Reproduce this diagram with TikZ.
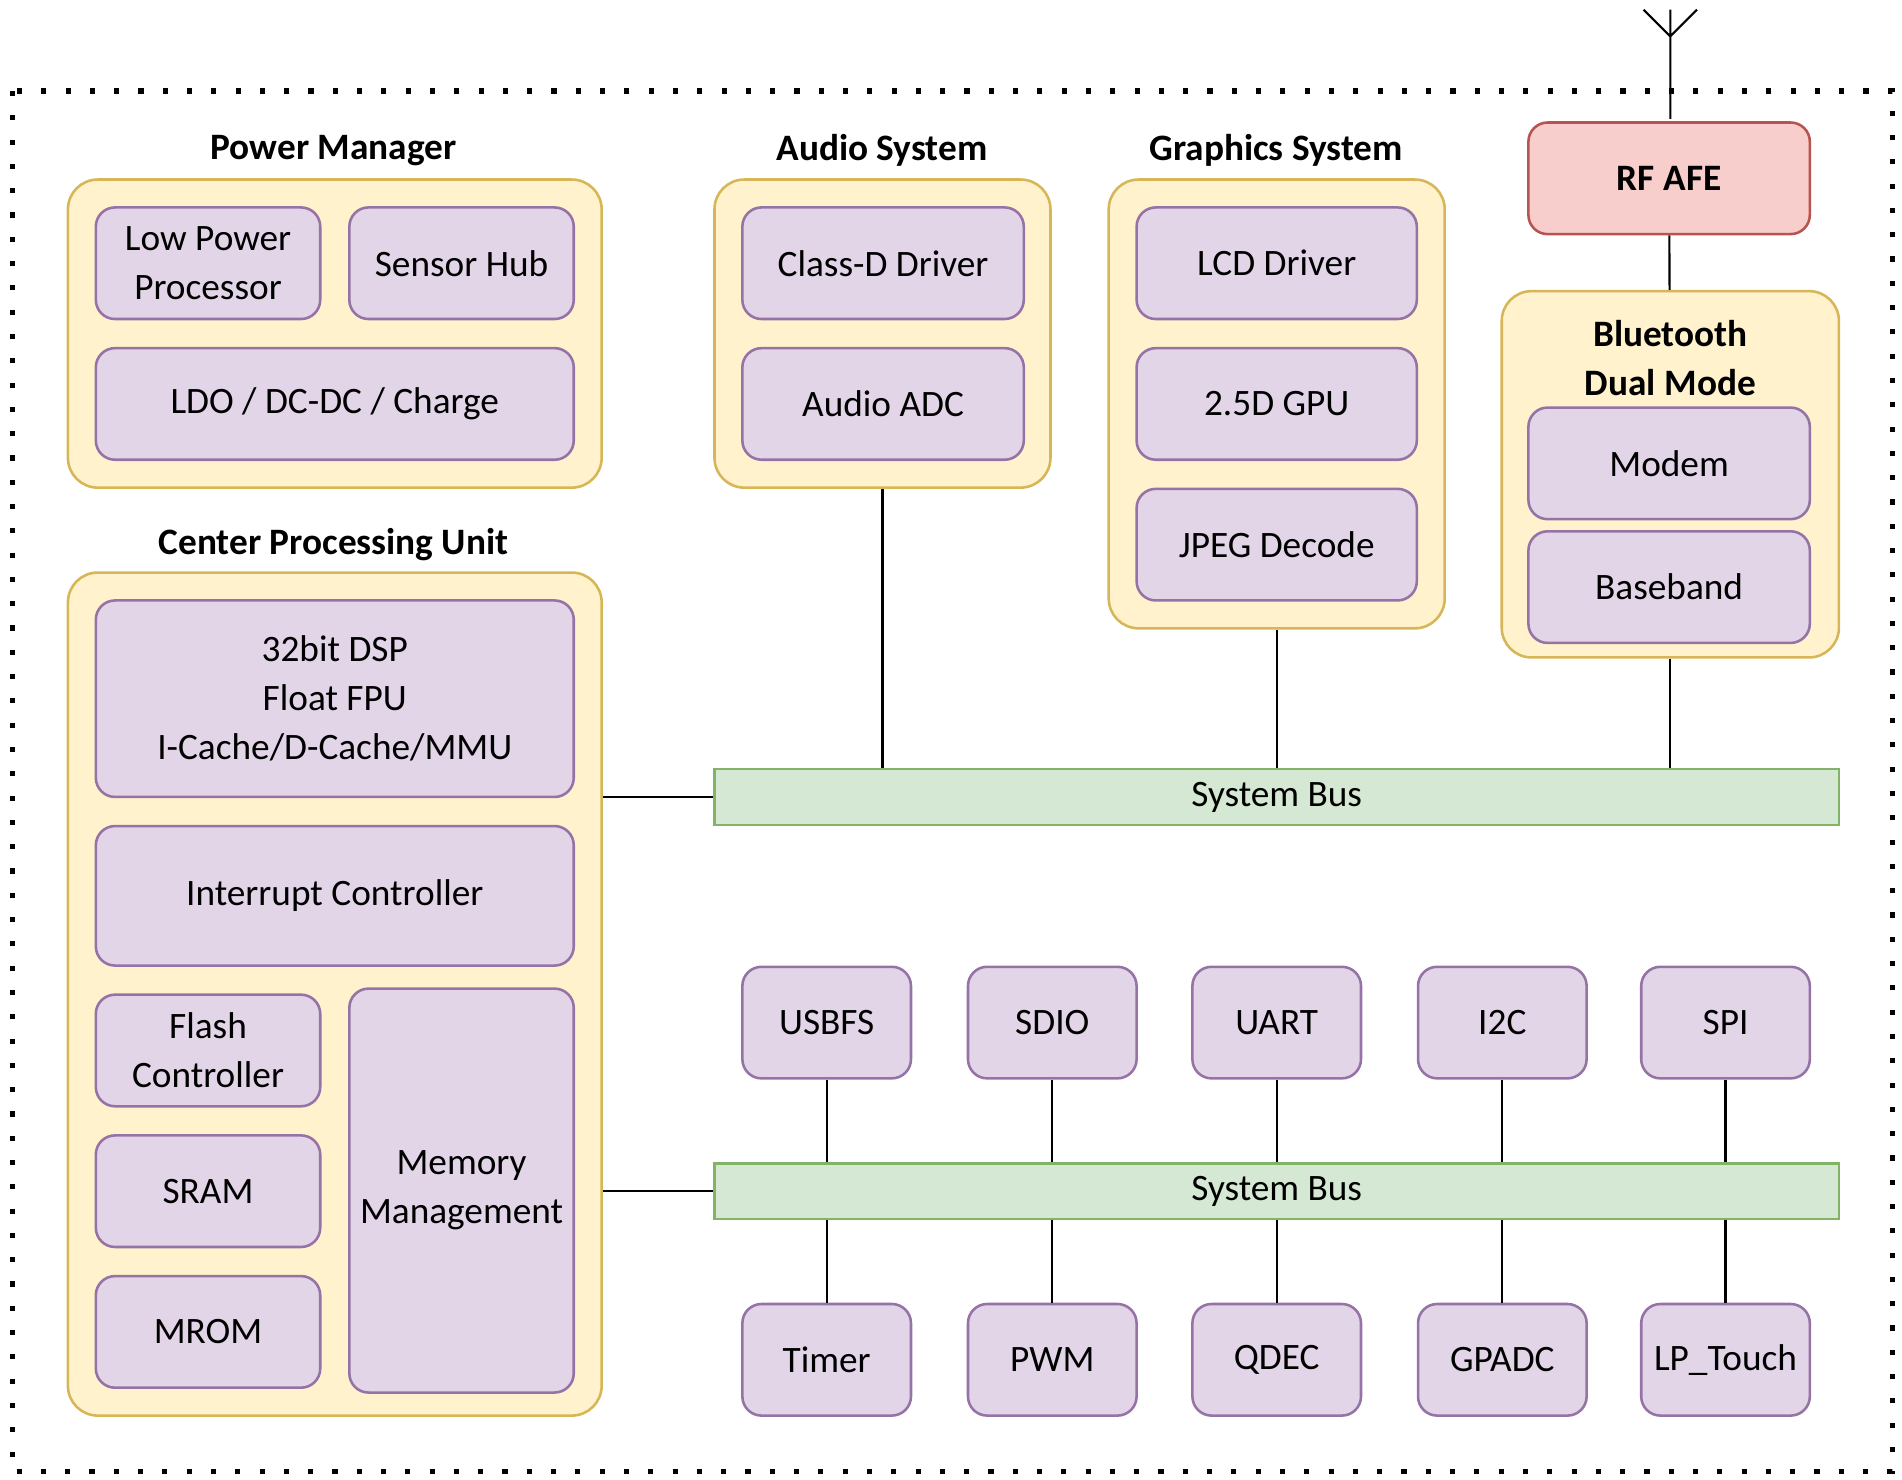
\documentclass[tikz,border=0pt]{standalone}
\usepackage{fontspec}
\setmainfont{Carlito}
\usetikzlibrary{positioning}
\definecolor{ylwfill}{HTML}{FFF2CC}
\definecolor{ylwdraw}{HTML}{D6B656}
\definecolor{prpfill}{HTML}{E1D5E7}
\definecolor{prpdraw}{HTML}{9673A6}
\definecolor{grnfill}{HTML}{D5E8D4}
\definecolor{grndraw}{HTML}{82B366}
\definecolor{redfill}{HTML}{F8CECC}
\definecolor{reddraw}{HTML}{B85450}
\newcommand{\txtsize}{\fontsize{17.5}{23}\selectfont}
\tikzset{
  grp/.style={draw=ylwdraw,fill=ylwfill,line width=1.2pt,rounded corners=14pt},
  blk/.style={draw=prpdraw,fill=prpfill,line width=1.2pt,rounded corners=9pt,align=center},
  bus/.style={draw=grndraw,fill=grnfill,line width=1.2pt},
  rf/.style={draw=reddraw,fill=redfill,line width=1.2pt,rounded corners=9pt,font=\txtsize\bfseries},
  ttl/.style={font=\txtsize\bfseries},
}
% box from corner (x1,y1) to (x2,y2) in pixels
\newcommand{\bx}[7]{\node[#1,minimum width={(#5-#3)*0.02cm},minimum height={(#6-#4)*0.02cm},inner sep=0pt] (#2) at ({(#3+#5)/2},{(#4+#6)/2+2}) {#7};}
\begin{document}
\begin{tikzpicture}[x=0.02cm,y=-0.02cm,font=\txtsize,line width=1pt]
  \useasboundingbox (0,0) rectangle (1568,1220);
  \draw[line width=2.4pt,dash pattern=on 2.4pt off 9pt] (10,75) rectangle (1560,1213);
  % antenna
  \coordinate (ant) at (1377,30);
  \draw (ant) -- ++(-22,-22) (ant) -- ++(22,-22) (1377,8) -- (1377,98);
  % groups
  \bx{grp}{pm}{56}{146}{496}{400}{}
  \bx{grp}{aud}{589}{146}{866}{400}{}
  \bx{grp}{gfx}{914}{146}{1191}{516}{}
  \bx{grp}{bt}{1238}{238}{1516}{540}{}
  \bx{grp}{cpu}{56}{470}{496}{1165}{}
  \node[ttl] at (275,124) {Power Manager};
  \node[ttl] at (727,124) {Audio System};
  \node[ttl] at (1052,124) {Graphics System};
  \node[ttl] at (275,449) {Center Processing Unit};
  \node[ttl,align=center] at (1377,295) {Bluetooth\\Dual Mode};
  \bx{rf}{afe}{1260}{99}{1492}{191}{RF AFE}
  % power manager
  \bx{blk}{lpp}{79}{169}{264}{261}{Low Power\\Processor}
  \bx{blk}{hub}{288}{169}{473}{261}{Sensor Hub}
  \bx{blk}{ldo}{79}{285}{473}{377}{LDO / DC-DC / Charge}
  % audio, graphics, bluetooth
  \bx{blk}{cls}{612}{169}{844}{261}{Class-D Driver}
  \bx{blk}{adc}{612}{285}{844}{377}{Audio ADC}
  \bx{blk}{lcd}{937}{169}{1168}{261}{LCD Driver}
  \bx{blk}{gpu}{937}{285}{1168}{377}{2.5D GPU}
  \bx{blk}{jpg}{937}{401}{1168}{493}{JPEG Decode}
  \bx{blk}{mdm}{1260}{334}{1492}{426}{Modem}
  \bx{blk}{bb}{1260}{436}{1492}{528}{Baseband}
  % cpu
  \bx{blk}{dsp}{79}{493}{473}{655}{32bit DSP\\Float FPU\\I-Cache/D-Cache/MMU}
  \bx{blk}{irq}{79}{679}{473}{794}{Interrupt Controller}
  \bx{blk}{flc}{79}{818}{264}{910}{Flash\\Controller}
  \bx{blk}{sram}{79}{934}{264}{1026}{SRAM}
  \bx{blk}{mrom}{79}{1050}{264}{1142}{MROM}
  \bx{blk}{mmu}{288}{813}{473}{1146}{Memory\\Management}
  % buses
  \bx{bus}{busa}{589}{632}{1516}{678}{System Bus}
  \bx{bus}{busb}{589}{957}{1516}{1003}{System Bus}
  % peripherals
  \bx{blk}{usb}{612}{795}{751}{887}{USBFS}
  \bx{blk}{sdio}{798}{795}{937}{887}{SDIO}
  \bx{blk}{uart}{983}{795}{1122}{887}{UART}
  \bx{blk}{iic}{1169}{795}{1308}{887}{I2C}
  \bx{blk}{spi}{1353}{795}{1492}{887}{SPI}
  \bx{blk}{tmr}{612}{1073}{751}{1165}{Timer}
  \bx{blk}{pwm}{798}{1073}{937}{1165}{PWM}
  \bx{blk}{qdec}{983}{1073}{1122}{1165}{QDEC}
  \bx{blk}{gpadc}{1169}{1073}{1308}{1165}{GPADC}
  \bx{blk}{touch}{1353}{1073}{1492}{1165}{LP\_Touch}
  % connectors
  \draw (afe) -- (bt);
  \draw (aud.south) -- (aud.south |- busa.north);
  \draw (gfx.south) -- (gfx.south |- busa.north);
  \draw (bt.south) -- (bt.south |- busa.north);
  \draw (cpu.east |- busa) -- (busa.west);
  \draw (cpu.east |- busb) -- (busb.west);
  \foreach \p in {usb,sdio,uart,iic,spi}
    \draw (\p.south) -- (\p.south |- busb.north);
  \foreach \p in {tmr,pwm,qdec,gpadc,touch}
    \draw (\p.north) -- (\p.north |- busb.south);
\end{tikzpicture}
\end{document}
